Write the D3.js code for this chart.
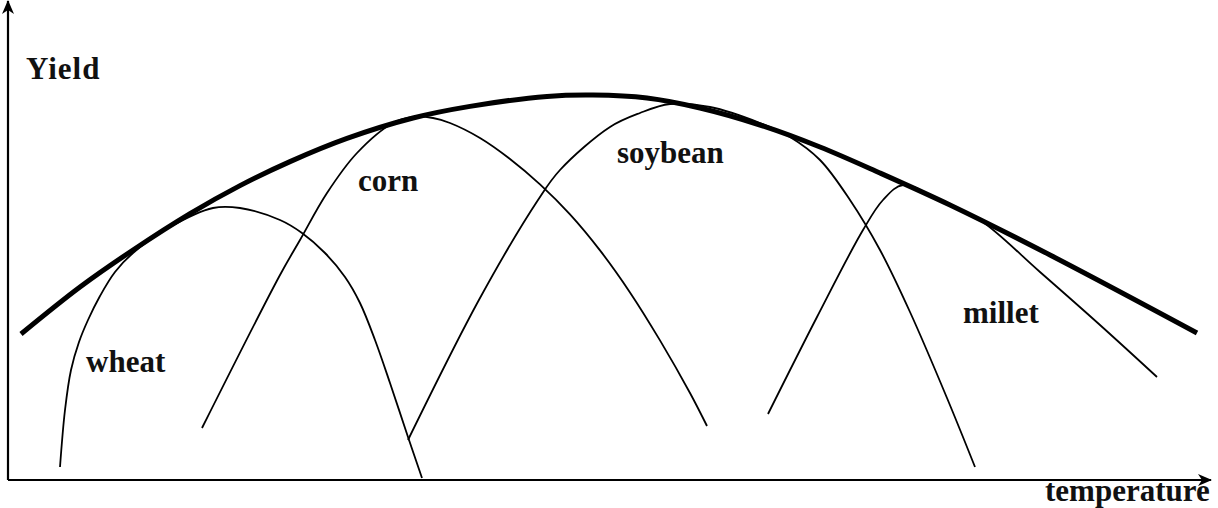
<!DOCTYPE html>
<html>
<head>
<meta charset="utf-8">
<script src="https://cdn.jsdelivr.net/npm/d3@7"></script>
<style>
  html, body { margin: 0; padding: 0; background: #fff; }
  svg text { font-family: "Liberation Serif", "DejaVu Serif", serif; font-weight: bold; fill: #111; }
</style>
</head>
<body>
<script>
// yield vs temperature sketch
var w = 1218;
var h = 508;

// curves: temperature (0-120) / yield (0-120)
var envelopeTemp  = [1.3, 7.2, 12.5, 18.2, 23.2, 28.2, 33.9, 40.5, 46.2, 53.9, 58.5, 63.9, 69.2, 75.2, 81.2, 87.2, 94.2, 104.2, 118.9];
var envelopeYield = [36.5, 48.25, 57.5, 66.6, 73.6, 79.6, 85.4, 90.5, 93.4, 95.9, 96.25, 95.5, 93, 88.75, 83.25, 76.75, 68.75, 56.25, 36.75];

var wheatTemp  = [5.2, 5.7, 6.3, 7.1, 8, 9.2, 10.7, 12.5, 16.2, 20.5, 23.2, 27.2, 29.4, 31.7, 33.7, 35.2, 36.7, 38.2, 40, 41.4];
var wheatYield = [3.25, 17.5, 27.5, 34.5, 40, 46, 52, 56.75, 63.25, 68, 68, 65, 61.75, 56.75, 50.75, 44.25, 35, 24.25, 10.75, 0.5];

var cornTemp  = [19.4, 27.2, 29.2, 31.9, 34.9, 38.5, 40.5, 42.5, 44.2, 47.2, 50.2, 53.2, 56.2, 59.2, 62.2, 65.2, 68.2, 69.9];
var cornYield = [13, 51.25, 60, 71.75, 81.75, 89.25, 90.75, 90.5, 89.25, 85.5, 80.25, 73.9, 66.4, 57.4, 46.9, 34.9, 21.75, 13.5];

var soyTemp  = [40, 47.2, 53, 55.2, 60.2, 63.2, 66.2, 70.2, 75.2, 78.2, 81.2, 84.2, 87.2, 90.2, 93.9, 96.7];
var soyYield = [10, 45.5, 70, 77.5, 88.25, 91.75, 94, 93.25, 89.25, 85.75, 80, 70, 57.5, 42, 20.5, 3.25];

var milletTemp  = [76, 80.9, 85.5, 87.5, 89.5, 93.2, 97.2, 103.2, 109.2, 114.9];
var milletYield = [16.5, 40.75, 62.5, 70, 73.75, 69.9, 65, 52, 38.75, 25.75];

var cropNames = ["wheat", "corn", "soybean", "millet"];
var labelTemp  = [7.8, 35, 60.9, 95.5];
var labelYield = [27, 72.25, 79.25, 39.25];

// create svg
var svg = d3.select("body").append("svg")
  .attr("width", w)
  .attr("height", h);

var x = d3.scaleLinear().domain([0, 120]).range([8, 1208]);
var y = d3.scaleLinear().domain([0, 120]).range([480, 0]);

function zip(ts, ys) {
  return ts.map(function(t, i) { return {t: t, v: ys[i]}; });
}

var line = d3.line()
  .x(function(d) { return x(d.t); })
  .y(function(d) { return y(d.v); })
  .curve(d3.curveCatmullRom.alpha(0.5));

// arrow head
svg.append("defs").append("marker")
  .attr("id", "arrow")
  .attr("viewBox", "0 -6 14 12")
  .attr("refX", 13)
  .attr("refY", 0)
  .attr("markerWidth", 14)
  .attr("markerHeight", 12)
  .attr("markerUnits", "userSpaceOnUse")
  .attr("orient", "auto")
  .append("path")
  .attr("d", "M0,-6L14,0L0,6L4,0Z")
  .attr("fill", "#000");

// axes
svg.append("line")
  .attr("x1", x(0)).attr("y1", y(0))
  .attr("x2", 1211).attr("y2", y(0))
  .attr("stroke", "#000").attr("stroke-width", 2.2)
  .attr("marker-end", "url(#arrow)");
svg.append("line")
  .attr("x1", x(0)).attr("y1", y(0))
  .attr("x2", x(0)).attr("y2", 1)
  .attr("stroke", "#000").attr("stroke-width", 2.2)
  .attr("marker-end", "url(#arrow)");

// crop curves
var crops = [
  zip(wheatTemp, wheatYield),
  zip(cornTemp, cornYield),
  zip(soyTemp, soyYield),
  zip(milletTemp, milletYield)
];
svg.selectAll("path.crop")
  .data(crops)
  .enter()
  .append("path")
  .attr("class", "crop")
  .attr("d", line)
  .attr("fill", "none")
  .attr("stroke", "#000")
  .attr("stroke-width", 1.8);

// envelope
svg.append("path")
  .datum(zip(envelopeTemp, envelopeYield))
  .attr("d", line)
  .attr("fill", "none")
  .attr("stroke", "#000")
  .attr("stroke-width", 5)
  .attr("stroke-linecap", "butt");

// labels
svg.selectAll("text.crop")
  .data(cropNames)
  .enter()
  .append("text")
  .attr("class", "crop")
  .attr("x", function(d, i) { return x(labelTemp[i]); })
  .attr("y", function(d, i) { return y(labelYield[i]); })
  .attr("font-size", "31px")
  .text(function(d) { return d; });

svg.append("text")
  .attr("x", 26).attr("y", 79)
  .attr("font-size", "31px")
  .attr("letter-spacing", "1px")
  .text("Yield");

svg.append("text")
  .attr("x", 1045).attr("y", 501)
  .attr("font-size", "31px")
  .text("temperature");
</script>
</body>
</html>
